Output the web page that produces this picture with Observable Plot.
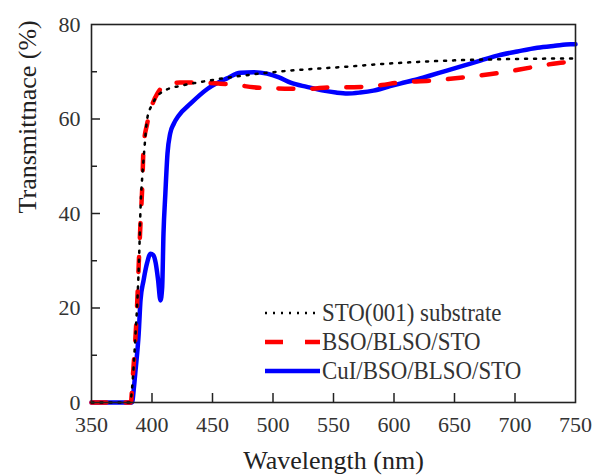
<!DOCTYPE html>
<html><head><meta charset="utf-8">
<script src="https://cdn.jsdelivr.net/npm/d3@7"></script>
<script src="https://cdn.jsdelivr.net/npm/@observablehq/plot@0.6"></script>
<style>
body{margin:0;background:#fff;}
#wrap{position:relative;width:593px;height:476px;}
#legend{position:absolute;left:265px;top:298px;font-family:"Liberation Serif",serif;font-size:26px;color:#333;}
.row{height:29px;display:flex;align-items:center;}
.row svg{width:56px;height:10px;flex:none;overflow:visible;}
.row span{display:inline-block;transform:scaleX(0.88);transform-origin:left center;white-space:nowrap;margin-left:1px;}
</style></head>
<body><div id="wrap"><div id="legend"></div></div>
<script>
const seriesNames = ["STO(001) substrate", "BSO/BLSO/STO", "CuI/BSO/BLSO/STO"];
const xTitle = "Wavelength (nm)";
const yTitle = "Transmittnace (%)";
const xTicks = [350, 400, 450, 500, 550, 600, 650, 700, 750];
const yTicks = [0, 20, 40, 60, 80];
const yMinorTicks = [10, 30, 50, 70];

const stoWave = [350, 382, 383.5, 385, 386.5, 388, 389.5, 390.5, 392, 393.5, 396, 400, 405, 412, 423, 435, 451, 470, 496, 517, 557, 600, 649, 700, 743, 750];
const stoT    = [0, 0, 3, 8.3, 15, 22, 32, 41, 48, 53, 60, 63, 65, 66.2, 67, 67.6, 68.3, 69, 69.8, 70.3, 71, 71.8, 72.4, 72.7, 72.8, 72.8];

const bsoWave = [350, 382.5, 384, 385.5, 387.6, 389, 390.5, 392, 393, 396, 400, 404.5, 410, 423, 440, 455, 470, 484, 500, 514, 530, 547, 560, 574, 590, 603, 630, 657, 688, 718, 743, 750];
const bsoT    = [0, 0, 5, 10.4, 20, 29, 38, 46, 54, 59, 62.9, 65.4, 67, 67.7, 67.7, 67.5, 67.2, 66.7, 66.5, 66.4, 66.4, 66.7, 66.7, 66.8, 67.2, 67.7, 68.1, 68.8, 69.8, 71.1, 72, 72];

const cuiWave = [350, 383.5, 385, 386.4, 389, 390.5, 393, 396, 398.8, 401, 403, 405, 407, 408.4, 409.5, 411, 412.8, 415, 418, 422, 432, 446, 462, 473, 484, 495, 505, 514.5, 528, 541.7, 552, 561.5, 572, 583, 595, 605, 618, 630, 643, 657.5, 672, 685.5, 702, 718.5, 733, 746, 750];
const cuiT    = [0, 0, 3, 6.8, 14.6, 21.6, 25.8, 29.6, 31.5, 31.2, 29.6, 26, 21.6, 24.3, 35.8, 44, 52.7, 56.9, 59, 60.7, 63.3, 66.4, 68.6, 69.8, 69.9, 69.6, 68.8, 67.7, 66.8, 66, 65.6, 65.4, 65.6, 66, 66.8, 67.5, 68.3, 69.2, 70.2, 71.3, 72.4, 73.4, 74.3, 75.1, 75.5, 75.8, 75.8];

const toRows = (w, t) => w.map((x, i) => ({x, y: t[i]}));
const sto = toRows(stoWave, stoT);
const bso = toRows(bsoWave, bsoT);
const cui = toRows(cuiWave, cuiT);

const W = 593, H = 476, ML = 91, MR = 18, MT = 24, MB = 74;
const plotW = W - ML - MR, plotH = H - MT - MB;
const majorLen = 9, minorLen = 6;

const styles = [
  {stroke: "#000", strokeWidth: 2.5, strokeDasharray: "2,7"},
  {stroke: "#ff0000", strokeWidth: 4.5, strokeDasharray: "15,19"},
  {stroke: "#0000ff", strokeWidth: 4.5}
];

const chart = Plot.plot({
  width: W, height: H,
  marginLeft: ML, marginRight: MR, marginTop: MT, marginBottom: MB,
  style: {fontFamily: "'Liberation Serif', serif", fontSize: "22px", color: "#333", background: "white", overflow: "visible"},
  x: {domain: [350, 750]},
  y: {domain: [0, 80]},
  marks: [
    Plot.axisX({ticks: xTicks, tickSize: 0, tickPadding: 14, label: null, tickFormat: d => String(d)}),
    Plot.axisY({ticks: yTicks, tickSize: 0, tickPadding: 11, label: null, tickFormat: d => String(d)}),
    Plot.ruleX(xTicks.slice(1, -1), {x: d => d, insetTop: plotH - majorLen, stroke: "#222", strokeWidth: 1.5}),
    Plot.ruleY(yTicks.slice(1, -1), {y: d => d, insetRight: plotW - majorLen, stroke: "#222", strokeWidth: 1.5}),
    Plot.ruleY(yMinorTicks, {y: d => d, insetRight: plotW - minorLen, stroke: "#222", strokeWidth: 1.5}),
    Plot.line(cui, {x: "x", y: "y", curve: "monotone-x", ...styles[2]}),
    Plot.line(bso, {x: "x", y: "y", curve: "monotone-x", ...styles[1]}),
    Plot.line(sto, {x: "x", y: "y", curve: "monotone-x", ...styles[0]}),
    Plot.frame({stroke: "#222", strokeWidth: 1.6}),
    Plot.text([xTitle], {text: d => d, frameAnchor: "bottom", dy: 58, lineAnchor: "middle", fontSize: 26, fill: "#222"}),
    Plot.text([yTitle], {text: d => d, frameAnchor: "left", dx: -64, rotate: -90, lineAnchor: "middle", fontSize: 26, fill: "#222"})
  ]
});
const wrap = document.getElementById("wrap");
wrap.insertBefore(chart, wrap.firstChild);

const legend = document.getElementById("legend");
const legendDash = [
  {dash: "2,6", w: 2.5},
  {dash: "18,22", w: 4.5},
  {dash: null, w: 4.5}
];
seriesNames.forEach((name, i) => {
  const row = document.createElement("div");
  row.className = "row";
  const s = styles[i];
  const ld = legendDash[i];
  row.innerHTML = `<svg viewBox="0 0 56 10"><line x1="0" y1="5" x2="55" y2="5" stroke="${s.stroke}" stroke-width="${ld.w}" ${ld.dash ? `stroke-dasharray="${ld.dash}"` : ""}/></svg><span>${name}</span>`;
  legend.appendChild(row);
});
</script>
</body></html>
